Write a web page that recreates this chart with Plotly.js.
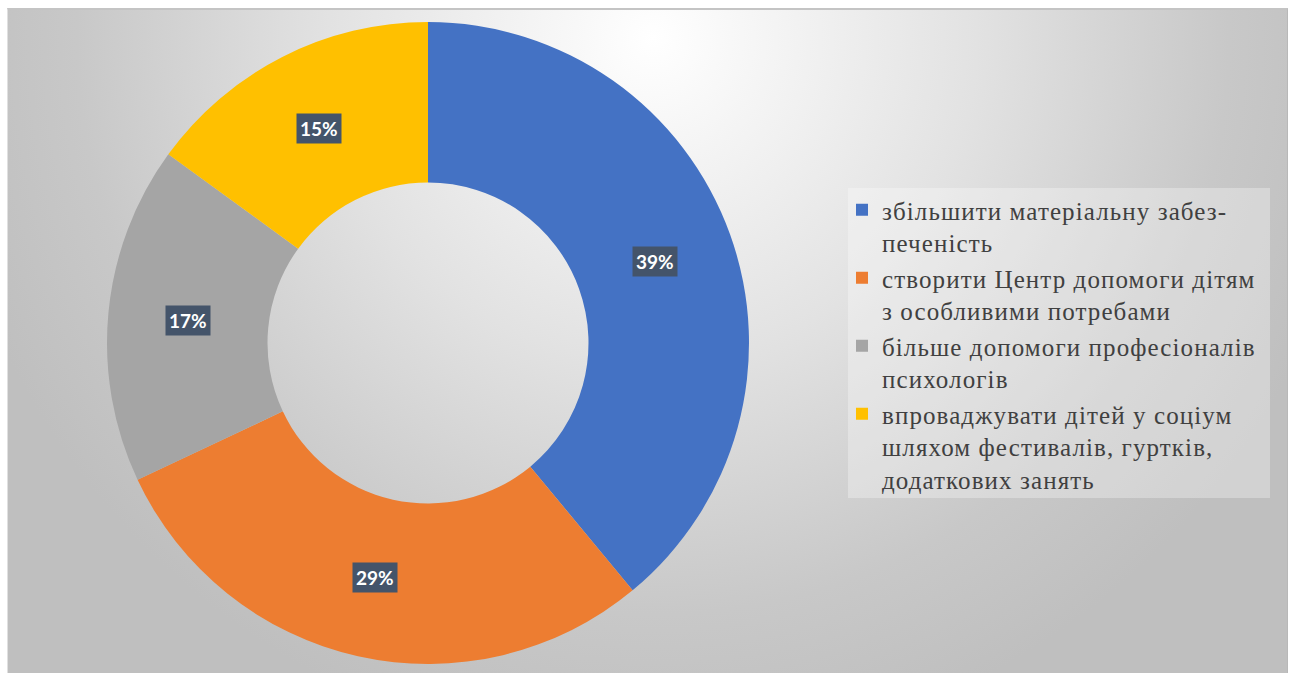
<!DOCTYPE html>
<html>
<head>
<meta charset="utf-8">
<script src="https://cdn.plot.ly/plotly-3.0.1.min.js"></script>
<style>
  html, body { margin: 0; padding: 0; background: #ffffff; }
  #wrap { position: relative; width: 1292px; height: 673px; overflow: hidden; }
  #bg {
    position: absolute; left: 7px; top: 8px; width: 1279px; height: 670px;
    border-top: 2px solid #c4c4c4; border-right: 1px solid #b8b8b8; border-left: 1px solid #e0e0e0;
    background: radial-gradient(circle 720px at 645px 28px, #ffffff 0%, #e2e2e2 45%, #c8c8c8 80%, #bfbfbf 100%);
  }
  #chart { position: absolute; left: 0; top: 0; width: 1292px; height: 673px; }
  #chart .legendtext { letter-spacing: 1.1px; }
  #chart .legend .scrollbox { clip-path: none !important; }
</style>
</head>
<body>
<div id="wrap">
  <div id="bg"></div>
  <div id="chart"></div>
</div>
<script>
// ---- data ----
const categories = [
  "збільшити матеріальну забез-<br>печеність",
  "створити Центр допомоги дітям<br>з особливими потребами",
  "більше допомоги професіоналів<br>психологів",
  "впроваджувати дітей у соціум<br>шляхом фестивалів, гуртків,<br>додаткових занять"
];
const values = [39, 29, 17, 15];
const colors = ["#4472C4", "#ED7D31", "#A5A5A5", "#FFC000"];

// ---- layout constants ----
const W = 1292, H = 673;
const cxPx = 428, cyPx = 343, rPx = 321;
const holeFrac = 0.5;

const domainX = [(cxPx - rPx) / W, (cxPx + rPx) / W];
const domainY = [(H - cyPx - rPx) / H, (H - cyPx + rPx) / H];

// label annotations at mid-angle, mid-ring radius (derived from values)
const total = values.reduce((a, b) => a + b, 0);
const midR = rPx * (1 + holeFrac) / 2;
let cum = 0;
const annotations = values.map((v) => {
  const a = (cum + v / 2) / total * 2 * Math.PI;
  cum += v;
  const px = cxPx + midR * Math.sin(a);
  const py = cyPx - midR * Math.cos(a);
  return {
    xref: "paper", yref: "paper",
    x: px / W, y: (H - py) / H,
    xanchor: "center", yanchor: "middle",
    text: "<b>" + Math.round(v / total * 100) + "%</b>",
    showarrow: false,
    bgcolor: "#44546A",
    borderpad: 3,
    font: { family: "Lato, 'Open Sans', sans-serif", size: 19, color: "#ffffff" }
  };
});

const trace = {
  type: "pie",
  labels: categories,
  values: values,
  hole: holeFrac,
  sort: false,
  direction: "clockwise",
  rotation: 0,
  textinfo: "none",
  hoverinfo: "none",
  marker: { colors: colors, line: { width: 0 } },
  domain: { x: domainX, y: domainY }
};

const layout = {
  width: W, height: H,
  margin: { l: 0, r: 0, t: 0, b: 0 },
  paper_bgcolor: "rgba(0,0,0,0)",
  plot_bgcolor: "rgba(0,0,0,0)",
  showlegend: true,
  legend: {
    x: 842 / W, xanchor: "left",
    y: (H - 187) / H, yanchor: "top",
    bgcolor: "rgba(0,0,0,0)",
    borderwidth: 0,
    valign: "top",
    font: { family: "'Liberation Serif', 'Times New Roman', serif", size: 25, color: "#404040" }
  },
  shapes: [{
    type: "rect", xref: "paper", yref: "paper",
    x0: 848 / W, x1: 1270 / W, y0: (H - 498) / H, y1: (H - 188) / H,
    fillcolor: "rgba(255,255,255,0.3)", line: { width: 0 }, layer: "below"
  }],
  annotations: annotations
};

Plotly.newPlot("chart", [trace], layout, { displayModeBar: false, staticPlot: true });
</script>
</body>
</html>
